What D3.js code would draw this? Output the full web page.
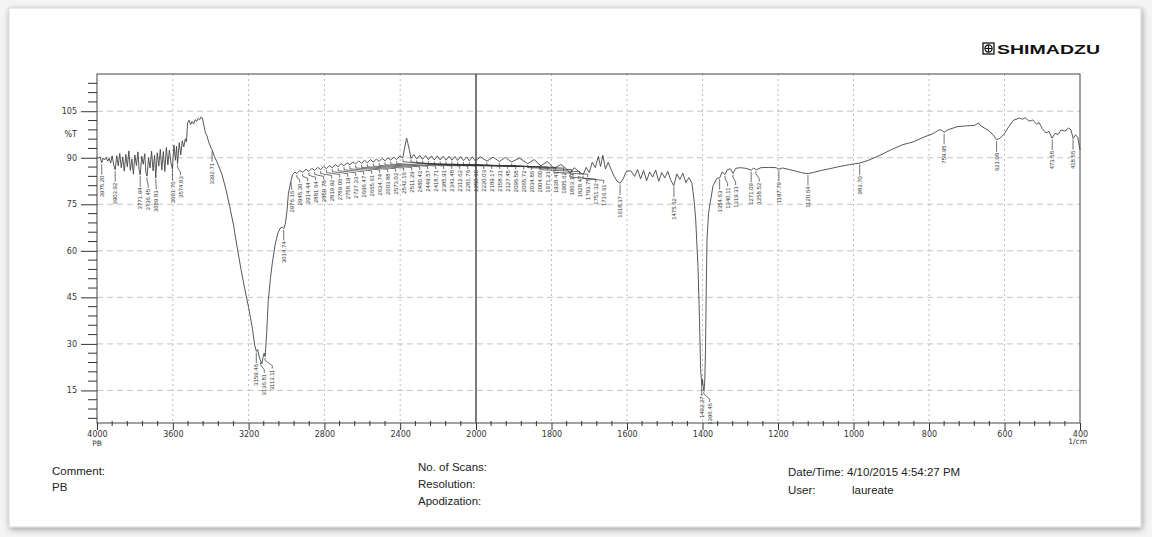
<!DOCTYPE html>
<html>
<head>
<meta charset="utf-8">
<script src="https://cdn.jsdelivr.net/npm/d3@7.9.0/dist/d3.min.js"></script>
<style>
  html, body { margin: 0; padding: 0; background: #fff; }
  svg { display: block; }
</style>
</head>
<body>
<div id="chart"></div>
<script>
// ── Data (wavenumber 1/cm, %T) ────────────────────────────────────────────
var SPECTRUM = [
  [4000, 90.2], [3992, 89.9], [3984, 90.3], [3975, 88.4], [3968, 89.9], [3960, 89.3],
  [3952, 90.2], [3944, 88.9], [3936, 89.8], [3928, 88.3], [3920, 90.6], [3912, 87.7],
  [3904, 86.1], [3896, 90.7], [3888, 87.4], [3880, 91.4], [3872, 86.8], [3864, 90.3],
  [3856, 85.7], [3848, 91.1], [3840, 87.1], [3832, 92.2], [3824, 85.9], [3816, 89.6],
  [3808, 84.7], [3800, 90.9], [3792, 87.5], [3784, 91.9], [3778, 86.2], [3772, 84.5],
  [3764, 90.5], [3756, 87.9], [3748, 91.3], [3742, 85.2], [3736, 84.1], [3728, 90.0],
  [3720, 86.7], [3712, 92.1], [3704, 85.8], [3696, 90.8], [3690, 83.5], [3682, 91.6],
  [3674, 87.3], [3666, 92.7], [3658, 86.0], [3650, 92.0], [3642, 85.6], [3634, 93.3],
  [3626, 87.7], [3618, 92.5], [3610, 88.5], [3602, 86.3], [3594, 94.1], [3586, 89.2],
  [3580, 93.7], [3575, 88.1], [3566, 94.9], [3558, 90.9], [3550, 95.5], [3542, 93.5],
  [3534, 96.1], [3528, 95.1], [3522, 101.3], [3514, 102.1], [3506, 100.7], [3498, 101.7],
  [3490, 100.9], [3482, 102.3], [3474, 101.7], [3466, 102.7], [3458, 102.3], [3450, 103.2],
  [3444, 102.8], [3436, 100.4], [3428, 98.1], [3420, 97.1], [3410, 95.0], [3400, 93.4],
  [3393, 92.6], [3380, 90.4], [3360, 87.7], [3340, 84.5], [3320, 79.9], [3300, 74.4],
  [3280, 68.4], [3260, 61.0], [3240, 54.0], [3220, 47.6], [3200, 41.8], [3180, 35.0],
  [3168, 29.6], [3159, 27.6], [3152, 28.2], [3144, 25.8], [3136, 24.4], [3130, 23.6],
  [3124, 25.6], [3118, 27.0], [3113, 25.9], [3105, 33.0], [3096, 44.0], [3085, 51.0],
  [3075, 56.0], [3060, 62.0], [3045, 65.8], [3032, 67.4], [3022, 67.6], [3014, 67.2],
  [3006, 68.8], [2998, 72.5], [2990, 78.5],
  [2976, 82.6], [2968, 84.6], [2955, 85.4], [2945, 84.9], [2930, 85.9], [2914, 85.3],
  [2898, 86.3], [2882, 85.6], [2866, 86.6], [2851, 85.9], [2835, 86.9], [2820, 86.2],
  [2804, 87.2], [2789, 86.5], [2773, 87.5], [2758, 86.8], [2742, 87.8], [2727, 87.1],
  [2712, 88.1], [2696, 87.4], [2681, 88.4], [2666, 87.7], [2650, 88.7], [2635, 88.0],
  [2619, 89.0], [2604, 88.2], [2588, 89.2], [2573, 88.4], [2557, 89.4], [2542, 88.6],
  [2526, 89.6], [2511, 88.8], [2495, 89.8], [2480, 89.0], [2465, 90.0], [2450, 89.2],
  [2434, 90.2], [2419, 89.4], [2402, 90.5], [2386, 90.0], [2376, 93.5], [2366, 96.3],
  [2360, 94.8], [2352, 92.6], [2343, 89.8], [2328, 91.0], [2313, 89.6], [2297, 90.8],
  [2282, 89.5], [2266, 90.7], [2251, 89.4], [2235, 90.6], [2220, 89.3], [2204, 90.6],
  [2189, 89.3], [2173, 90.5], [2158, 89.2], [2142, 90.5], [2127, 89.2], [2111, 90.4],
  [2097, 89.1], [2081, 90.4], [2066, 89.1], [2050, 90.3], [2035, 89.0], [2019, 90.3],
  [2004, 89.0], [1988, 90.3], [1971, 88.9], [1955, 90.2], [1938, 88.8], [1922, 90.1],
  [1906, 88.6], [1885, 89.9], [1863, 88.1], [1846, 89.4], [1828, 87.4], [1811, 88.8],
  [1794, 86.6], [1775, 87.8], [1760, 86.4], [1751, 85.0], [1740, 86.8], [1728, 85.6],
  [1716, 84.6], [1708, 86.9], [1700, 85.2], [1692, 88.6], [1684, 86.8], [1676, 90.4],
  [1670, 87.2], [1664, 90.8], [1657, 86.4], [1650, 88.5], [1642, 86.2], [1634, 84.0],
  [1626, 82.4], [1618, 81.8], [1610, 83.2], [1602, 85.6], [1590, 85.8], [1580, 84.0],
  [1572, 86.2], [1564, 83.2], [1556, 85.9], [1548, 82.6], [1540, 85.4], [1532, 83.8],
  [1524, 86.0], [1516, 82.4], [1508, 85.2], [1500, 83.5], [1492, 85.6], [1484, 82.8],
  [1476, 81.0], [1468, 84.8], [1460, 83.0], [1452, 85.0], [1444, 82.0], [1436, 83.6],
  [1428, 81.8], [1422, 76.0], [1418, 70.0], [1412, 55.0], [1408, 38.0], [1405, 22.0],
  [1402, 16.8], [1400, 18.6], [1398, 16.2], [1396, 14.8], [1394, 18.0], [1392, 28.0],
  [1390, 48.0], [1388, 64.0], [1384, 72.0], [1380, 75.3], [1372, 81.0], [1362, 83.3],
  [1354, 83.6], [1348, 85.4], [1340, 84.6], [1334, 86.2], [1326, 86.4], [1319, 85.0],
  [1312, 86.6], [1300, 86.8], [1285, 86.6], [1271, 86.0], [1264, 86.7], [1258, 86.1],
  [1245, 86.8], [1225, 86.9], [1205, 86.8], [1197, 86.3], [1188, 86.7], [1170, 86.2],
  [1150, 85.6], [1135, 85.1], [1120, 84.9], [1105, 85.3], [1085, 85.9], [1062, 86.5],
  [1040, 87.1], [1010, 87.8], [983, 88.3], [960, 89.2], [930, 90.8], [900, 92.6],
  [870, 94.2], [842, 95.1], [815, 96.6], [789, 97.8], [775, 98.9], [768, 99.0],
  [760, 98.2], [750, 99.0], [726, 100.0], [700, 100.3], [680, 100.4], [669, 101.2],
  [662, 100.2], [645, 99.0], [630, 97.4], [621, 95.8], [612, 96.3], [600, 97.8],
  [590, 99.8], [576, 102.1], [560, 102.8], [552, 102.4], [545, 102.9], [535, 101.8],
  [525, 102.2], [515, 100.8], [508, 101.3], [500, 99.4], [490, 98.0], [482, 98.5],
  [474, 96.3], [466, 97.9], [458, 97.5], [450, 99.0], [440, 98.6], [430, 99.6],
  [424, 99.0], [418, 96.2], [412, 97.4], [406, 96.6], [400, 92.5]
];

// peak labels, grouped by region
var PEAKS_HIGH = [3975.20, 3903.92, 3771.94, 3736.45, 3689.83, 3601.76, 3574.83, 3392.71];
var PEAKS_DIP  = [3159.46, 3136.81, 3113.11, 3014.74];
var PEAKS_MID  = [2976.16, 2945.30, 2914.44, 2881.64, 2850.78, 2819.92, 2789.06, 2758.19,
                  2727.33, 2696.47, 2665.61, 2634.74, 2603.88, 2573.02, 2542.16, 2511.29,
                  2480.43, 2449.57, 2418.71, 2385.91, 2343.48, 2312.62, 2281.76, 2250.90,
                  2220.03, 2189.17, 2158.31, 2127.45, 2096.58, 2065.72, 2034.86, 2004.00,
                  1971.21, 1938.41, 1905.62, 1863.19, 1828.47, 1793.75, 1751.32, 1716.61];
var PEAKS_LOW  = [1618.37, 1475.62, 1402.27, 1396.46, 1354.63, 1340.11, 1319.31, 1271.09,
                  1258.52, 1197.79, 1120.64, 983.70, 759.95, 621.08, 473.58, 418.55];

var X_MAJOR = [4000, 3600, 3200, 2800, 2400, 2000, 1800, 1600, 1400, 1200, 1000, 800, 600, 400];
var Y_MAJOR = [15, 30, 45, 60, 75, 90, 105];

var HEADER_BRAND = "SHIMADZU";
var FOOTER_LEFT  = ["Comment:", "PB"];
var FOOTER_MID   = ["No. of Scans:", "Resolution:", "Apodization:"];
var FOOTER_DATE  = "Date/Time: 4/10/2015 4:54:27 PM";
var FOOTER_USER  = ["User:", "laureate"];

// ── Layout ────────────────────────────────────────────────────────────────
var W = 1152, H = 537;
var PL = 97, PR = 1080, PT = 74, PB = 423;
var FONT = "'Liberation Sans', Arial, sans-serif";
var TICKFONT = "'DejaVu Sans', sans-serif";

// the instrument compresses 4000-2000 to half the scale of 2000-400
var x = d3.scaleLinear().domain([4000, 2000, 400]).range([PL, 476, PR]);
var y = d3.scaleLinear().domain([4.5, 117]).range([PB, PT]);

var svg = d3.select("#chart").append("svg")
  .attr("width", W).attr("height", H)
  .attr("viewBox", "0 0 " + W + " " + H);

var defs = svg.append("defs");
var sh = defs.append("filter").attr("id", "pg-shadow")
  .attr("x", "-2%").attr("y", "-2%").attr("width", "104%").attr("height", "104%");
sh.append("feGaussianBlur").attr("in", "SourceAlpha").attr("stdDeviation", 3).attr("result", "b");
sh.append("feOffset").attr("in", "b").attr("dx", 1).attr("dy", 2).attr("result", "o");
sh.append("feComponentTransfer").attr("in", "o").attr("result", "o2")
  .append("feFuncA").attr("type", "linear").attr("slope", 0.35);
var shm = sh.append("feMerge");
shm.append("feMergeNode").attr("in", "o2");
shm.append("feMergeNode").attr("in", "SourceGraphic");

// page sheet
svg.append("rect").attr("width", W).attr("height", H).attr("fill", "#f4f4f4");
svg.append("rect")
  .attr("x", 9).attr("y", 8).attr("width", W - 20).attr("height", H - 18)
  .attr("fill", "#fff").attr("stroke", "#d6d6d6").attr("stroke-width", 1)
  .attr("filter", "url(#pg-shadow)");

// ── Brand ─────────────────────────────────────────────────────────────────
var brand = svg.append("g").attr("transform", "translate(983,43)");
brand.append("rect").attr("x", 0).attr("y", 0).attr("width", 11).attr("height", 11)
  .attr("fill", "none").attr("stroke", "#111").attr("stroke-width", 1.3);
brand.append("circle").attr("cx", 5.5).attr("cy", 5.5).attr("r", 3.6)
  .attr("fill", "none").attr("stroke", "#111").attr("stroke-width", 1.2);
brand.append("path").attr("d", "M5.5 1.9 V9.1 M1.9 5.5 H9.1")
  .attr("stroke", "#111").attr("stroke-width", 1.2);
svg.append("text")
  .attr("x", 997).attr("y", 54)
  .attr("font-family", FONT).attr("font-weight", "bold").attr("font-size", 13.5)
  .attr("textLength", 103).attr("lengthAdjust", "spacingAndGlyphs")
  .attr("fill", "#111")
  .text(HEADER_BRAND);

// ── Grid ──────────────────────────────────────────────────────────────────
var grid = svg.append("g");
grid.selectAll("line.h").data(Y_MAJOR).enter().append("line")
  .attr("x1", PL).attr("x2", PR)
  .attr("y1", function (d) { return y(d); }).attr("y2", function (d) { return y(d); })
  .attr("stroke", "#bdbdbd").attr("stroke-width", 0.9).attr("stroke-dasharray", "6,4");
grid.selectAll("line.v").data(X_MAJOR.filter(function (d) { return d !== 4000 && d !== 400 && d !== 2000; }))
  .enter().append("line")
  .attr("y1", PT).attr("y2", PB)
  .attr("x1", function (d) { return x(d); }).attr("x2", function (d) { return x(d); })
  .attr("stroke", "#b5b5b5").attr("stroke-width", 0.9).attr("stroke-dasharray", "2,3");
grid.append("line")
  .attr("x1", x(2000)).attr("x2", x(2000)).attr("y1", PT).attr("y2", PB)
  .attr("stroke", "#7a7a7a").attr("stroke-width", 2);

// ── Frame & axes ──────────────────────────────────────────────────────────
svg.append("rect").attr("x", PL).attr("y", PT).attr("width", PR - PL).attr("height", PB - PT)
  .attr("fill", "none").attr("stroke", "#444").attr("stroke-width", 1);

var xAxis = svg.append("g").attr("transform", "translate(0," + PB + ")")
  .call(d3.axisBottom(x).tickValues(X_MAJOR).tickSize(7).tickPadding(1.5).tickFormat(d3.format("d")));
xAxis.select(".domain").remove();
xAxis.selectAll("line").attr("stroke", "#333");
xAxis.selectAll("text").attr("font-family", TICKFONT).attr("font-size", 8).attr("fill", "#333");

var yAxis = svg.append("g").attr("transform", "translate(" + PL + ",0)")
  .call(d3.axisLeft(y).tickValues(Y_MAJOR).tickSize(16).tickPadding(4));
yAxis.select(".domain").remove();
yAxis.selectAll("line").attr("stroke", "#333");
yAxis.selectAll("text").attr("font-family", TICKFONT).attr("font-size", 8).attr("fill", "#333");

// minor ticks
var xMinor = d3.range(4000, 2000, -80).concat(d3.range(2000, 400, -40))
  .filter(function (d) { return X_MAJOR.indexOf(d) === -1; });
svg.append("g").selectAll("line").data(xMinor).enter().append("line")
  .attr("x1", function (d) { return x(d); }).attr("x2", function (d) { return x(d); })
  .attr("y1", PB - 2).attr("y2", PB + 3)
  .attr("stroke", "#333").attr("stroke-width", 1);
var yMinor = d3.range(6, 117, 3).filter(function (d) { return Y_MAJOR.indexOf(d) === -1; });
svg.append("g").selectAll("line").data(yMinor).enter().append("line")
  .attr("x1", PL - 9).attr("x2", PL)
  .attr("y1", function (d) { return y(d); }).attr("y2", function (d) { return y(d); })
  .attr("stroke", "#333").attr("stroke-width", 1);

svg.append("text").attr("x", 77).attr("y", y(97.6)).attr("dy", "0.32em")
  .attr("text-anchor", "end").attr("font-family", TICKFONT).attr("font-size", 8).attr("fill", "#333")
  .text("%T");
svg.append("text").attr("x", x(4000)).attr("y", 446)
  .attr("text-anchor", "middle").attr("font-family", TICKFONT).attr("font-size", 7.5).attr("fill", "#333")
  .text("PB");
svg.append("text").attr("x", 1087).attr("y", 444)
  .attr("text-anchor", "end").attr("font-family", TICKFONT).attr("font-size", 7.5).attr("fill", "#333")
  .text("1/cm");

// ── Spectrum ──────────────────────────────────────────────────────────────
var line = d3.line().x(function (d) { return x(d[0]); }).y(function (d) { return y(d[1]); });
svg.append("path").datum(SPECTRUM)
  .attr("d", line).attr("fill", "none")
  .attr("stroke", "#444").attr("stroke-width", 0.9).attr("stroke-linejoin", "round");

// %T of the trace at a given wavenumber (for leader start)
var asc = SPECTRUM.slice().sort(function (a, b) { return a[0] - b[0]; });
var bis = d3.bisector(function (d) { return d[0]; }).left;
function tAt(wn) {
  var i = bis(asc, wn);
  if (i <= 0) return asc[0][1];
  if (i >= asc.length) return asc[asc.length - 1][1];
  var a = asc[i - 1], b = asc[i];
  return a[1] + (b[1] - a[1]) * (wn - a[0]) / (b[0] - a[0]);
}

// ── Peak labels ───────────────────────────────────────────────────────────
var fmt = d3.format(".2f");
var LBL_FS = 6, LBL_GAP = 8;
var peaks = [];
function addPeaks(list, row) {
  list.forEach(function (wn) { peaks.push({ wn: wn, row: row }); });
}
addPeaks(PEAKS_HIGH, null);
addPeaks(PEAKS_DIP, null);
addPeaks(PEAKS_MID, 170);
addPeaks(PEAKS_LOW, null);
peaks.sort(function (a, b) { return b.wn - a.wn; });

var prevX = -1e9;
peaks.forEach(function (p) {
  p.px = x(p.wn);
  p.py = y(tAt(p.wn));
  p.lx = Math.max(p.px, prevX + LBL_GAP);
  prevX = p.lx;
  p.top = p.row ? Math.max(p.py + 10, p.row) : p.py + 13;
});

var lblG = svg.append("g");
peaks.forEach(function (p) {
  var pts = [[p.px, p.py + 1.5], [p.px, p.py + 4], [p.lx, p.top - 4], [p.lx, p.top - 1]];
  lblG.append("path")
    .attr("d", d3.line()(pts)).attr("fill", "none")
    .attr("stroke", "#333").attr("stroke-width", 0.7);
  lblG.append("text")
    .attr("transform", "translate(" + (p.lx + LBL_FS * 0.36) + "," + p.top + ") rotate(-90)")
    .attr("text-anchor", "end")
    .attr("font-family", FONT).attr("font-size", LBL_FS).attr("fill", "#333")
    .text(fmt(p.wn));
});

// ── Footer ────────────────────────────────────────────────────────────────
var foot = svg.append("g").attr("font-family", FONT).attr("font-size", 11.5).attr("fill", "#222");
FOOTER_LEFT.forEach(function (t, i) {
  foot.append("text").attr("x", 52).attr("y", 475 + i * 16).text(t);
});
FOOTER_MID.forEach(function (t, i) {
  foot.append("text").attr("x", 418).attr("y", 471 + i * 17).text(t);
});
foot.append("text").attr("x", 788).attr("y", 476).text(FOOTER_DATE);
foot.append("text").attr("x", 788).attr("y", 494).text(FOOTER_USER[0]);
foot.append("text").attr("x", 852).attr("y", 494).text(FOOTER_USER[1]);
</script>
</body>
</html>
